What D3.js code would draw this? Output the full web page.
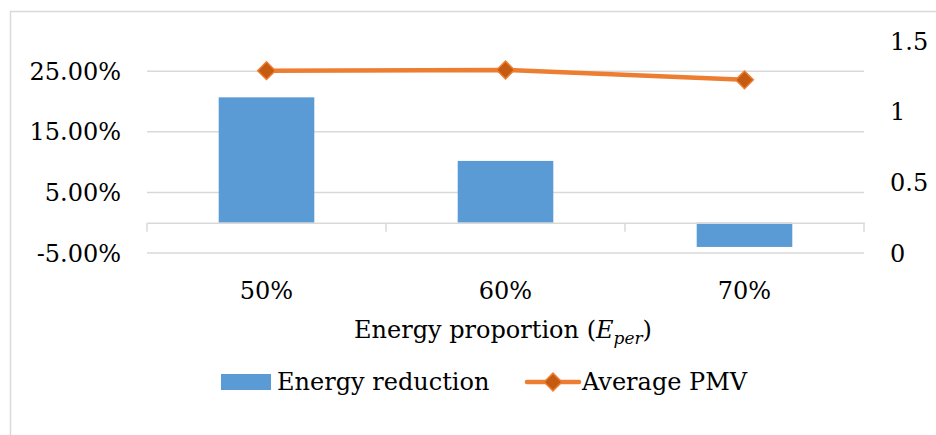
<!DOCTYPE html>
<html>
<head>
<meta charset="utf-8">
<script src="https://cdn.jsdelivr.net/npm/d3@7"></script>
<style>
  body { margin: 0; background: white; }
  #container { width: 936px; height: 435px; }
</style>
</head>
<body>
<div id="container"></div>
<script>
let w = 936;
let h = 435;

// DATA
let categories = ["50%", "60%", "70%"];
let energyReduction = [20.7, 10.2, -4.0];   // percent, left axis
let averagePMV = [1.29, 1.295, 1.225];      // right axis
let leftTicks = [-5, 5, 15, 25];
let rightTicks = [0, 0.5, 1, 1.5];

let fontFam = "'DejaVu Serif', serif";
let fontSize = "24px";
let blue = "#5B9BD5";
let orange = "#ED7D31";
let darkOrange = "#C55A11";
let grid = "#D9D9D9";

// plot area
let plotLeft = 147, plotRight = 864, plotTop = 41, plotBottom = 253;

let viz = d3.select("#container").append("svg")
    .attr("width", w)
    .attr("height", h)
    .style("background-color", "white")
;

// chart border (only left & top visible)
viz.append("path")
  .attr("d", "M10.5," + h + " L10.5,11.5 L" + w + ",11.5")
  .attr("fill", "none")
  .attr("stroke", grid)
  .attr("stroke-width", 1.5);

// SCALES
let xScale = d3.scaleBand().domain(categories).range([plotLeft, plotRight]).paddingInner(0.6).paddingOuter(0.3);
let xBand = d3.scaleBand().domain(categories).range([plotLeft, plotRight]);
let yLeft = d3.scaleLinear().domain([-5, 30]).range([plotBottom, plotTop]);
let yRight = d3.scaleLinear().domain([0, 1.5]).range([plotBottom, plotTop]);

// gridlines
viz.selectAll(".grid").data(leftTicks).enter()
  .append("line")
    .attr("class", "grid")
    .attr("x1", plotLeft)
    .attr("x2", plotRight)
    .attr("y1", function(d){ return yLeft(d); })
    .attr("y2", function(d){ return yLeft(d); })
    .attr("stroke", grid)
    .attr("stroke-width", 1.5)
;

// bars
viz.selectAll(".bar").data(energyReduction).enter()
  .append("rect")
    .attr("class", "bar")
    .attr("x", function(d,i){ return xScale(categories[i]); })
    .attr("width", xScale.bandwidth())
    .attr("y", function(d){ return Math.min(yLeft(d), yLeft(0)); })
    .attr("height", function(d){ return Math.abs(yLeft(d) - yLeft(0)); })
    .attr("fill", blue)
;

// category axis at zero
let xAxis = d3.axisBottom(xBand).tickSize(0).tickFormat("");
let xg = viz.append("g").attr("transform", "translate(0," + yLeft(0) + ")").call(xAxis);
xg.select(".domain").attr("stroke", grid).attr("stroke-width", 1.5);
let bounds = categories.map(function(d){ return xBand(d); }).concat([plotRight]);
xg.selectAll(".bound").data(bounds).enter()
  .append("line")
    .attr("x1", function(d){ return d; })
    .attr("x2", function(d){ return d; })
    .attr("y1", 0)
    .attr("y2", 9)
    .attr("stroke", grid)
    .attr("stroke-width", 1.5)
;

// category labels
viz.selectAll(".catlabel").data(categories).enter()
  .append("text")
    .attr("x", function(d){ return xBand(d) + xBand.bandwidth() / 2; })
    .attr("y", 299)
    .attr("text-anchor", "middle")
    .style("font-family", fontFam)
    .style("font-size", fontSize)
    .text(function(d){ return d; })
;

// left axis labels (plain hyphen like Excel)
viz.selectAll(".ylab").data(leftTicks).enter()
  .append("text")
    .attr("x", 121)
    .attr("y", function(d){ return yLeft(d); })
    .attr("dy", "0.36em")
    .attr("text-anchor", "end")
    .style("font-family", fontFam)
    .style("font-size", fontSize)
    .text(function(d){ return (d < 0 ? "-" : "") + Math.abs(d).toFixed(2) + "%"; })
;

// right axis labels
viz.selectAll(".y2lab").data(rightTicks).enter()
  .append("text")
    .attr("x", 890)
    .attr("y", function(d){ return yRight(d); })
    .attr("dy", "0.36em")
    .style("font-family", fontFam)
    .style("font-size", fontSize)
    .text(function(d){ return d; })
;

// PMV line
let lineMaker = d3.line()
    .x(function(d,i){ return xBand(categories[i]) + xBand.bandwidth() / 2; })
    .y(function(d){ return yRight(d); })
;
viz.append("path")
  .datum(averagePMV)
  .attr("d", lineMaker)
  .attr("fill", "none")
  .attr("stroke", orange)
  .attr("stroke-width", 4.5)
  .attr("stroke-linecap", "round")
;

let diamond = d3.symbol().type(d3.symbolDiamond2).size(200);
viz.selectAll(".marker").data(averagePMV).enter()
  .append("path")
    .attr("class", "marker")
    .attr("d", diamond)
    .attr("transform", function(d,i){
      return "translate(" + (xBand(categories[i]) + xBand.bandwidth() / 2) + "," + yRight(d) + ")";
    })
    .attr("fill", darkOrange)
    .attr("stroke", orange)
    .attr("stroke-width", 1.5)
;

// axis title
let title = viz.append("text")
  .attr("x", 503)
  .attr("y", 338)
  .attr("text-anchor", "middle")
  .style("font-family", fontFam)
  .style("font-size", fontSize);
title.append("tspan").text("Energy proportion (");
title.append("tspan").style("font-style", "italic").text("E");
title.append("tspan").style("font-style", "italic").style("font-size", "17px").attr("dy", 6).text("per");
title.append("tspan").attr("dy", -6).text(")");

// LEGEND
viz.append("rect")
  .attr("x", 221).attr("y", 374).attr("width", 50).attr("height", 16)
  .attr("fill", blue);
viz.append("text")
  .attr("x", 277).attr("y", 390)
  .style("font-family", fontFam).style("font-size", fontSize)
  .text("Energy reduction");
viz.append("line")
  .attr("x1", 527).attr("x2", 579).attr("y1", 382).attr("y2", 382)
  .attr("stroke", orange).attr("stroke-width", 4.5).attr("stroke-linecap", "round");
viz.append("path")
  .attr("d", diamond)
  .attr("transform", "translate(553,382)")
  .attr("fill", darkOrange).attr("stroke", orange).attr("stroke-width", 1.5);
viz.append("text")
  .attr("x", 582).attr("y", 390)
  .style("font-family", fontFam).style("font-size", fontSize)
  .text("Average PMV");
</script>
</body>
</html>
